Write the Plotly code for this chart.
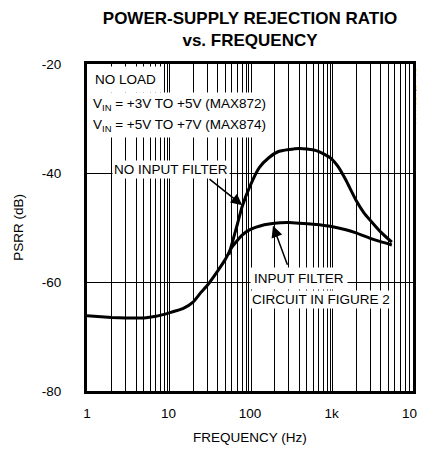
import plotly.graph_objects as go

# ---- data ----
freq_filter = [1, 2, 3, 5, 7, 10, 15, 20, 25, 30, 40, 50, 60, 80, 100, 150, 200,
               300, 400, 600, 1000, 1500, 2000, 3000, 4000, 5500]
psrr_filter = [-66.2, -66.5, -66.6, -66.6, -66.3, -65.7, -64.9, -63.7, -61.9, -60.6,
               -58.0, -55.8, -53.6, -51.4, -50.4, -49.5, -49.2, -49.1, -49.2, -49.4,
               -49.8, -50.4, -51.0, -52.0, -52.6, -53.2]

freq_nofilter = [55, 60, 70, 80, 100, 130, 170, 220, 300, 400, 500, 650, 800, 1000,
                 1200, 1500, 2000, 2500, 3000, 4000, 5500]
psrr_nofilter = [-55.0, -53.0, -49.4, -46.2, -42.4, -39.0, -37.2, -36.1, -35.7, -35.5,
                 -35.6, -35.9, -36.5, -37.4, -38.8, -41.3, -45.0, -47.3, -48.7, -50.8,
                 -52.7]

x_decades = [1, 10, 100, 1000, 10000]
x_ticktext = ["1", "10", "100", "1k", "10k"]
y_ticks = [-80, -60, -40, -20]
y_ticktext = ["-80", "-60", "-40", "-20"]

# grid: thin lines at 2..9 of every decade, decade lines drawn as a thin double line
x_minor = [m * d for d in [1, 10, 100, 1000] for m in range(2, 10)]
x_decade_double = [d * f for d in [10, 100, 1000] for f in (10 ** -0.016, 10 ** 0.016)]
x_grid = sorted(x_minor + x_decade_double)

FONT = "Liberation Sans, Arial, Helvetica, sans-serif"

# page body has an 8px default margin: figure is drawn offset by OFF
OFF = 8
W, H = 425, 452
# desired plot area in window pixels
L, R, T, B = 87, 413, 64, 391


def px(x):
    return (x - L) / (R - L)


def py(y):
    return (B - y) / (B - T)


fig = go.Figure()
fig.add_trace(go.Scatter(x=freq_filter, y=psrr_filter, mode="lines",
                         line=dict(color="black", width=3, shape="spline", smoothing=0.5),
                         showlegend=False, hoverinfo="skip"))
fig.add_trace(go.Scatter(x=freq_nofilter, y=psrr_nofilter, mode="lines",
                         line=dict(color="black", width=3, shape="spline", smoothing=0.5),
                         showlegend=False, hoverinfo="skip"))

fig.update_xaxes(type="log", range=[0, 4], tickvals=x_decades, ticktext=x_ticktext,
                 showgrid=False,
                 minor=dict(tickvals=x_grid, showgrid=True, gridcolor="black", gridwidth=1, ticks=""),
                 ticks="outside", ticklen=8, tickcolor="rgba(0,0,0,0)",
                 showline=True, linecolor="black", linewidth=3, mirror=True,
                 zeroline=False, automargin=False, ticklabeloverflow="allow",
                 tickfont=dict(family=FONT, size=13.5, color="black"),
                 title=dict(text="FREQUENCY (Hz)", standoff=13,
                            font=dict(family=FONT, size=13.5, color="black")))
fig.update_yaxes(range=[-80, -20], tickvals=y_ticks, ticktext=y_ticktext,
                 showgrid=True, gridcolor="black", gridwidth=1,
                 ticks="outside", ticklen=20, tickcolor="rgba(0,0,0,0)",
                 showline=True, linecolor="black", linewidth=3, mirror=True,
                 zeroline=False, automargin=False,
                 tickfont=dict(family=FONT, size=13.5, color="black"),
                 title=dict(text="PSRR (dB)", standoff=16,
                            font=dict(family=FONT, size=13.5, color="black")))

ann_font = dict(family=FONT, size=13.5, color="black")
annotations = [
    dict(text="NO LOAD", x=px(89), y=py(80), xref="paper", yref="paper",
         xanchor="left", yanchor="middle", showarrow=False, bgcolor="white",
         borderpad=5, font=ann_font),
    dict(text="V<sub>IN</sub> = +3V TO +5V (MAX872)", x=px(89), y=py(104),
         xref="paper", yref="paper", xanchor="left", yanchor="middle",
         showarrow=False, bgcolor="white", borderpad=3, font=ann_font),
    dict(text="V<sub>IN</sub> = +5V TO +7V (MAX874)", x=px(89), y=py(125),
         xref="paper", yref="paper", xanchor="left", yanchor="middle",
         showarrow=False, bgcolor="white", borderpad=3, font=ann_font),
    dict(text="NO INPUT FILTER", x=px(170.5), y=py(169), xref="paper", yref="paper",
         xanchor="center", yanchor="middle", showarrow=False, bgcolor="white",
         borderpad=1, font=ann_font),
    dict(text="INPUT FILTER", x=px(250), y=py(278.5), xref="paper", yref="paper",
         xanchor="left", yanchor="middle", showarrow=False, bgcolor="white",
         borderpad=3, font=ann_font),
    dict(text="CIRCUIT IN FIGURE 2", x=px(250), y=py(299), xref="paper", yref="paper",
         xanchor="left", yanchor="middle", showarrow=False, bgcolor="white",
         borderpad=1, font=ann_font),
    # arrows
    dict(text="", x=1.905, y=-45.9, xref="x", yref="y", ax=1.485, ay=-40.9,
         axref="x", ayref="y", showarrow=True, arrowhead=2, arrowsize=1.5,
         arrowwidth=1.5, arrowcolor="black", standoff=0),
    dict(text="", x=2.282, y=-49.7, xref="x", yref="y", ax=2.466, ay=-57.1,
         axref="x", ayref="y", showarrow=True, arrowhead=2, arrowsize=1.5,
         arrowwidth=1.5, arrowcolor="black", standoff=0),
    # side label
    dict(text="MAX872/74-13", x=px(419.5), y=py(96), xref="paper", yref="paper",
         xanchor="center", yanchor="middle", textangle=-90, showarrow=False,
         font=dict(family=FONT, size=8.5, color="black")),
]

fig.update_layout(
    width=W, height=H,
    margin=dict(l=L - OFF, r=W - (R - OFF), t=T - OFF, b=H - (B - OFF), autoexpand=False),
    paper_bgcolor="white", plot_bgcolor="white",
    title=dict(text="<b>POWER-SUPPLY REJECTION RATIO<br>vs. FREQUENCY</b>",
               x=px(250), xref="paper", y=1 - (23.5 - OFF) / H, yref="container",
               xanchor="center", yanchor="middle",
               font=dict(family=FONT, size=17, color="black")),
    annotations=annotations,
    showlegend=False,
)

fig.write_html("out.html")
